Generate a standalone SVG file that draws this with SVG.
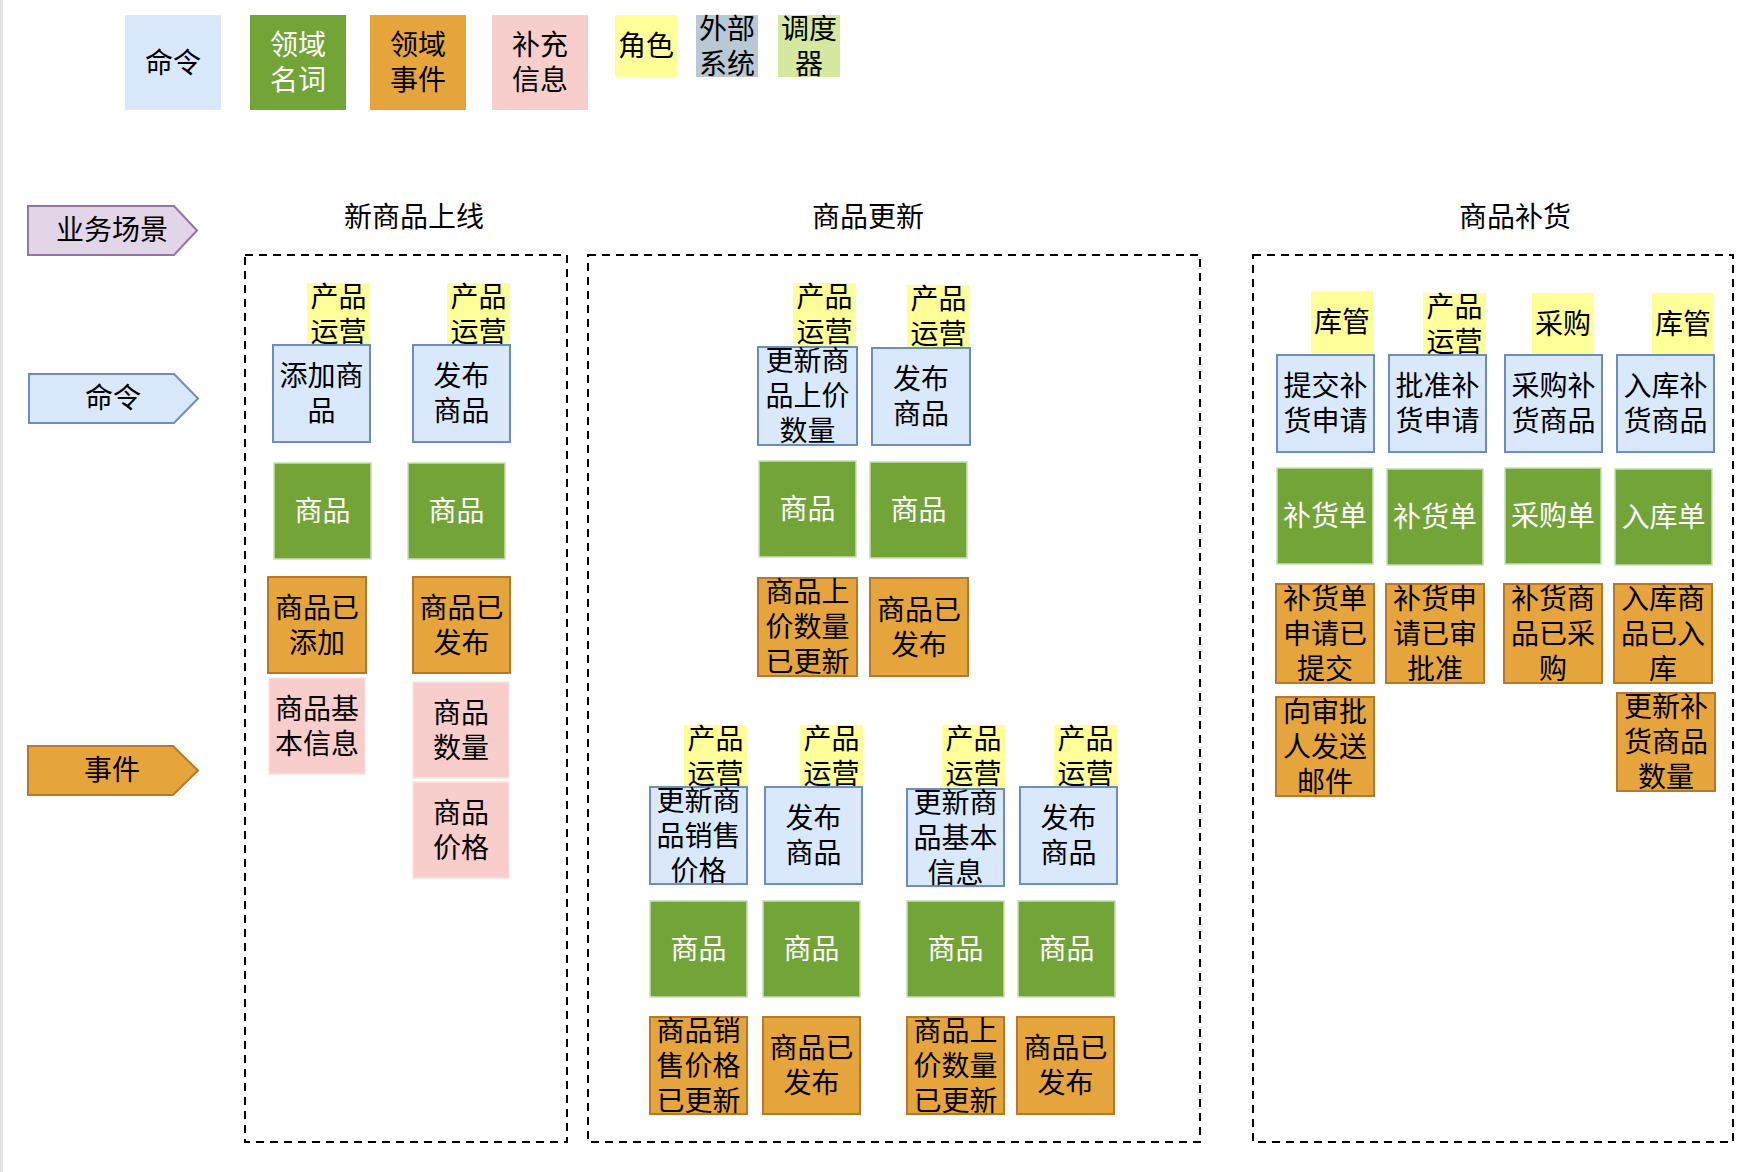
<svg xmlns="http://www.w3.org/2000/svg" width="1758" height="1172" viewBox="0 0 1758 1172">
<style>
text{font-family:"Noto Sans CJK SC","Noto Sans",sans-serif;font-size:28px;fill:#000;text-anchor:middle;dominant-baseline:central;transform:translateY(-2px)}
.w{fill:#fff}
.cmd{fill:#dae8fc;stroke:#6c8ebf;stroke-width:2}
.ent{fill:#72a437;stroke:#c8e0b4;stroke-width:1.5}
.evt{fill:#e6a43c;stroke:#b8782c;stroke-width:2}
.info{fill:#f8cecc;stroke:#fbe2e1;stroke-width:1.5}
.role{fill:#ffff99}
.ext{fill:#bac8d3}
.sch{fill:#d5e8a0}
.lcmd{fill:#dae8fc}
.lent{fill:#72a437}
.levt{fill:#e6a43c}
.linfo{fill:#f8cecc}
.frame{fill:none;stroke:#000;stroke-width:2;stroke-dasharray:8 6}
</style>
<rect x="0" y="0" width="3" height="1172" fill="#e4e4e4"/>

<g id="legend">
<g id="lg-cmd"><rect class="lcmd" x="125" y="15" width="96" height="95"/><text x="173" y="62.5">命令</text></g>
<g id="lg-ent"><rect class="lent" x="250" y="15" width="96" height="95"/><text class="w"><tspan x="298" y="45">领域</tspan><tspan x="298" y="80">名词</tspan></text></g>
<g id="lg-evt"><rect class="levt" x="370" y="15" width="96" height="95"/><text><tspan x="418" y="45">领域</tspan><tspan x="418" y="80">事件</tspan></text></g>
<g id="lg-info"><rect class="linfo" x="492" y="15" width="96" height="95"/><text><tspan x="540" y="45">补充</tspan><tspan x="540" y="80">信息</tspan></text></g>
<g id="lg-role"><rect class="role" x="615" y="15" width="62" height="62"/><text x="646" y="46">角色</text></g>
<g id="lg-ext"><rect class="ext" x="696" y="15" width="62" height="62"/><text><tspan x="727" y="28.5">外部</tspan><tspan x="727" y="63.5">系统</tspan></text></g>
<g id="lg-sch"><rect class="sch" x="778" y="15" width="62" height="62"/><text><tspan x="809" y="28.5">调度</tspan><tspan x="809" y="63.5">器</tspan></text></g>
</g>

<g id="lane-scene"><polygon points="28,206 174,206 197,230.5 174,255 28,255" fill="#e1d5e7" stroke="#9673a6" stroke-width="2"/><text x="112" y="230">业务场景</text></g>
<g id="lane-cmd"><polygon points="29,374 174,374 198,398.5 174,423 29,423" fill="#dae8fc" stroke="#6c8ebf" stroke-width="2"/><text x="113" y="398">命令</text></g>
<g id="lane-evt"><polygon points="28,746 173,746 198,770.5 173,795 28,795" fill="#e6a43c" stroke="#b8782c" stroke-width="2"/><text x="112" y="770">事件</text></g>

<g id="titles">
<text x="414" y="217">新商品上线</text>
<text x="868" y="217">商品更新</text>
<text x="1515" y="217">商品补货</text>
</g>

<g id="frames">
<rect class="frame" x="245" y="255" width="322" height="887"/>
<rect class="frame" x="588" y="255" width="612" height="887"/>
<rect class="frame" x="1253" y="255" width="480" height="887"/>
</g>

<g id="connectors"></g>

<!-- 新商品上线 -->
<g id="s1-role1"><rect class="role" x="307" y="283" width="63" height="63"/><text><tspan x="338.5" y="297">产品</tspan><tspan x="338.5" y="332">运营</tspan></text></g>
<g id="s1-role2"><rect class="role" x="447" y="283" width="63" height="63"/><text><tspan x="478.5" y="297">产品</tspan><tspan x="478.5" y="332">运营</tspan></text></g>
<g id="s1-cmd1"><rect class="cmd" x="273" y="345" width="97" height="97"/><text><tspan x="321.5" y="376">添加商</tspan><tspan x="321.5" y="411">品</tspan></text></g>
<g id="s1-cmd2"><rect class="cmd" x="413" y="345" width="97" height="97"/><text><tspan x="461.5" y="376">发布</tspan><tspan x="461.5" y="411">商品</tspan></text></g>
<g id="s1-ent1"><rect class="ent" x="274" y="463" width="97" height="96"/><text class="w" x="322.5" y="511">商品</text></g>
<g id="s1-ent2"><rect class="ent" x="408" y="463" width="97" height="96"/><text class="w" x="456.5" y="511">商品</text></g>
<g id="s1-evt1"><rect class="evt" x="268" y="577" width="98" height="96"/><text><tspan x="317" y="607.5">商品已</tspan><tspan x="317" y="642.5">添加</tspan></text></g>
<g id="s1-evt2"><rect class="evt" x="413" y="577" width="97" height="96"/><text><tspan x="461.5" y="607.5">商品已</tspan><tspan x="461.5" y="642.5">发布</tspan></text></g>
<g id="s1-info1"><rect class="info" x="269" y="678" width="96" height="96"/><text><tspan x="317" y="708.5">商品基</tspan><tspan x="317" y="743.5">本信息</tspan></text></g>
<g id="s1-info2"><rect class="info" x="413" y="682" width="96" height="96"/><text><tspan x="461" y="712.5">商品</tspan><tspan x="461" y="747.5">数量</tspan></text></g>
<g id="s1-info3"><rect class="info" x="413" y="782" width="96" height="96"/><text><tspan x="461" y="812.5">商品</tspan><tspan x="461" y="847.5">价格</tspan></text></g>

<!-- 商品更新 top -->
<g id="s2-roleA"><rect class="role" x="793" y="283" width="63" height="63"/><text><tspan x="824.5" y="297">产品</tspan><tspan x="824.5" y="332">运营</tspan></text></g>
<g id="s2-roleB"><rect class="role" x="907" y="285" width="63" height="63"/><text><tspan x="938.5" y="299">产品</tspan><tspan x="938.5" y="334">运营</tspan></text></g>
<g id="s2-cmdA"><rect class="cmd" x="758" y="347" width="99" height="98"/><text><tspan x="807.5" y="361">更新商</tspan><tspan x="807.5" y="396">品上价</tspan><tspan x="807.5" y="431">数量</tspan></text></g>
<g id="s2-cmdB"><rect class="cmd" x="872" y="348" width="98" height="97"/><text><tspan x="921" y="379">发布</tspan><tspan x="921" y="414">商品</tspan></text></g>
<g id="s2-entA"><rect class="ent" x="759" y="461" width="97" height="96"/><text class="w" x="807.5" y="509">商品</text></g>
<g id="s2-entB"><rect class="ent" x="870" y="462" width="97" height="96"/><text class="w" x="918.5" y="510">商品</text></g>
<g id="s2-evtA"><rect class="evt" x="758" y="578" width="99" height="98"/><text><tspan x="807.5" y="592">商品上</tspan><tspan x="807.5" y="627">价数量</tspan><tspan x="807.5" y="662">已更新</tspan></text></g>
<g id="s2-evtB"><rect class="evt" x="870" y="578" width="98" height="98"/><text><tspan x="919" y="609.5">商品已</tspan><tspan x="919" y="644.5">发布</tspan></text></g>

<!-- 商品更新 bottom -->
<g id="s2-roleC"><rect class="role" x="684" y="725" width="63" height="62"/><text><tspan x="715.5" y="738.5">产品</tspan><tspan x="715.5" y="773.5">运营</tspan></text></g>
<g id="s2-roleD"><rect class="role" x="800" y="725" width="63" height="62"/><text><tspan x="831.5" y="738.5">产品</tspan><tspan x="831.5" y="773.5">运营</tspan></text></g>
<g id="s2-roleE"><rect class="role" x="942" y="725" width="63" height="62"/><text><tspan x="973.5" y="738.5">产品</tspan><tspan x="973.5" y="773.5">运营</tspan></text></g>
<g id="s2-roleF"><rect class="role" x="1054" y="725" width="63" height="62"/><text><tspan x="1085.5" y="738.5">产品</tspan><tspan x="1085.5" y="773.5">运营</tspan></text></g>
<g id="s2-cmdC"><rect class="cmd" x="650" y="787" width="97" height="97"/><text><tspan x="698.5" y="800.5">更新商</tspan><tspan x="698.5" y="835.5">品销售</tspan><tspan x="698.5" y="870.5">价格</tspan></text></g>
<g id="s2-cmdD"><rect class="cmd" x="765" y="787" width="97" height="97"/><text><tspan x="813.5" y="818">发布</tspan><tspan x="813.5" y="853">商品</tspan></text></g>
<g id="s2-cmdE"><rect class="cmd" x="907" y="789" width="97" height="97"/><text><tspan x="955.5" y="802.5">更新商</tspan><tspan x="955.5" y="837.5">品基本</tspan><tspan x="955.5" y="872.5">信息</tspan></text></g>
<g id="s2-cmdF"><rect class="cmd" x="1020" y="787" width="97" height="97"/><text><tspan x="1068.5" y="818">发布</tspan><tspan x="1068.5" y="853">商品</tspan></text></g>
<g id="s2-entC"><rect class="ent" x="650" y="901" width="97" height="96"/><text class="w" x="698.5" y="949">商品</text></g>
<g id="s2-entD"><rect class="ent" x="763" y="901" width="97" height="96"/><text class="w" x="811.5" y="949">商品</text></g>
<g id="s2-entE"><rect class="ent" x="907" y="901" width="97" height="96"/><text class="w" x="955.5" y="949">商品</text></g>
<g id="s2-entF"><rect class="ent" x="1018" y="901" width="97" height="96"/><text class="w" x="1066.5" y="949">商品</text></g>
<g id="s2-evtC"><rect class="evt" x="650" y="1017" width="97" height="97"/><text><tspan x="698.5" y="1030.5">商品销</tspan><tspan x="698.5" y="1065.5">售价格</tspan><tspan x="698.5" y="1100.5">已更新</tspan></text></g>
<g id="s2-evtD"><rect class="evt" x="763" y="1017" width="97" height="97"/><text><tspan x="811.5" y="1048">商品已</tspan><tspan x="811.5" y="1083">发布</tspan></text></g>
<g id="s2-evtE"><rect class="evt" x="907" y="1017" width="97" height="97"/><text><tspan x="955.5" y="1030.5">商品上</tspan><tspan x="955.5" y="1065.5">价数量</tspan><tspan x="955.5" y="1100.5">已更新</tspan></text></g>
<g id="s2-evtF"><rect class="evt" x="1017" y="1017" width="97" height="97"/><text><tspan x="1065.5" y="1048">商品已</tspan><tspan x="1065.5" y="1083">发布</tspan></text></g>

<!-- 商品补货 -->
<g id="s3-role1"><rect class="role" x="1311" y="291" width="62" height="62"/><text x="1342" y="322">库管</text></g>
<g id="s3-role2"><rect class="role" x="1423" y="293" width="63" height="62"/><text><tspan x="1454.5" y="306.5">产品</tspan><tspan x="1454.5" y="341.5">运营</tspan></text></g>
<g id="s3-role3"><rect class="role" x="1532" y="293" width="62" height="62"/><text x="1563" y="324">采购</text></g>
<g id="s3-role4"><rect class="role" x="1652" y="293" width="62" height="62"/><text x="1683" y="324">库管</text></g>
<g id="s3-cmd1"><rect class="cmd" x="1277" y="355" width="97" height="97"/><text><tspan x="1325.5" y="386">提交补</tspan><tspan x="1325.5" y="421">货申请</tspan></text></g>
<g id="s3-cmd2"><rect class="cmd" x="1389" y="355" width="97" height="97"/><text><tspan x="1437.5" y="386">批准补</tspan><tspan x="1437.5" y="421">货申请</tspan></text></g>
<g id="s3-cmd3"><rect class="cmd" x="1505" y="355" width="97" height="97"/><text><tspan x="1553.5" y="386">采购补</tspan><tspan x="1553.5" y="421">货商品</tspan></text></g>
<g id="s3-cmd4"><rect class="cmd" x="1617" y="355" width="97" height="97"/><text><tspan x="1665.5" y="386">入库补</tspan><tspan x="1665.5" y="421">货商品</tspan></text></g>
<g id="s3-ent1"><rect class="ent" x="1277" y="468" width="96" height="96"/><text class="w" x="1325" y="516">补货单</text></g>
<g id="s3-ent2"><rect class="ent" x="1387" y="469" width="96" height="96"/><text class="w" x="1435" y="517">补货单</text></g>
<g id="s3-ent3"><rect class="ent" x="1505" y="468" width="96" height="96"/><text class="w" x="1553" y="516">采购单</text></g>
<g id="s3-ent4"><rect class="ent" x="1615" y="469" width="97" height="96"/><text class="w" x="1663.5" y="517">入库单</text></g>
<g id="s3-evt1"><rect class="evt" x="1276" y="584" width="98" height="99"/><text><tspan x="1325" y="598.5">补货单</tspan><tspan x="1325" y="633.5">申请已</tspan><tspan x="1325" y="668.5">提交</tspan></text></g>
<g id="s3-evt2"><rect class="evt" x="1386" y="584" width="98" height="99"/><text><tspan x="1435" y="598.5">补货申</tspan><tspan x="1435" y="633.5">请已审</tspan><tspan x="1435" y="668.5">批准</tspan></text></g>
<g id="s3-evt3"><rect class="evt" x="1504" y="584" width="98" height="99"/><text><tspan x="1553" y="598.5">补货商</tspan><tspan x="1553" y="633.5">品已采</tspan><tspan x="1553" y="668.5">购</tspan></text></g>
<g id="s3-evt4"><rect class="evt" x="1614" y="584" width="98" height="99"/><text><tspan x="1663" y="598.5">入库商</tspan><tspan x="1663" y="633.5">品已入</tspan><tspan x="1663" y="668.5">库</tspan></text></g>
<g id="s3-evt5"><rect class="evt" x="1276" y="697" width="98" height="99"/><text><tspan x="1325" y="711.5">向审批</tspan><tspan x="1325" y="746.5">人发送</tspan><tspan x="1325" y="781.5">邮件</tspan></text></g>
<g id="s3-evt6"><rect class="evt" x="1617" y="693" width="98" height="98"/><text><tspan x="1666" y="707">更新补</tspan><tspan x="1666" y="742">货商品</tspan><tspan x="1666" y="777">数量</tspan></text></g>
</svg>
